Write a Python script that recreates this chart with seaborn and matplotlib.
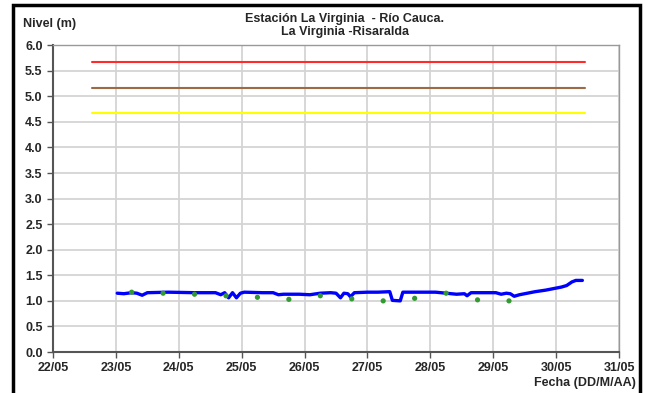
import numpy as np
import matplotlib
matplotlib.use("Agg")
import matplotlib.pyplot as plt
import matplotlib.dates as mdates
import pandas as pd
import seaborn as sns

# nivel del rio: horas desde 23/05 00:00 y nivel (m)
horas = [0.5, 3, 6, 8, 10, 12, 20, 30, 38, 40, 41.5, 43, 44.5, 46, 47.5, 49,
         56, 60, 62, 64, 70, 74, 78, 82, 84, 85.7, 87, 88.5, 89.5, 91, 96, 100,
         104.5, 105.5, 108.5, 109.5, 114, 122, 126, 130, 133, 134, 135.5, 140,
         145, 147, 149, 150.5, 152, 154, 157, 160, 164, 166, 170, 172, 174,
         175.5, 178]
nivel = [1.15, 1.14, 1.16, 1.15, 1.11, 1.16, 1.17, 1.16, 1.16, 1.12, 1.16,
         1.06, 1.16, 1.06, 1.15, 1.17, 1.16, 1.16, 1.12, 1.13, 1.13, 1.12,
         1.15, 1.16, 1.15, 1.06, 1.15, 1.14, 1.08, 1.16, 1.17, 1.17, 1.18,
         1.01, 1.00, 1.17, 1.17, 1.17, 1.15, 1.13, 1.14, 1.10, 1.16, 1.16,
         1.16, 1.13, 1.15, 1.14, 1.09, 1.12, 1.15, 1.18, 1.21, 1.23, 1.27,
         1.30, 1.37, 1.40, 1.40]

# lecturas de mira cada 12 h desde 23/05 06:00
horas_mira = [6, 18, 30, 42, 54, 66, 78, 90, 102, 114, 126, 138, 150]
nivel_mira = [1.17, 1.15, 1.13, 1.10, 1.07, 1.03, 1.10, 1.04, 1.00, 1.05,
              1.15, 1.02, 1.00]

# umbrales de alerta
umbrales = [5.67, 5.17, 4.68]
colores_umbral = ["#ff2a2a", "#9c6b45", "#ffff00"]
umbral_ini = "2010-05-22 15:00"
umbral_fin = "2010-05-30 11:00"

t0 = pd.Timestamp("2010-05-23 00:00")
serie = pd.DataFrame({"fecha": t0 + pd.to_timedelta(horas, unit="h"), "nivel": nivel})
mira = pd.DataFrame({"fecha": t0 + pd.to_timedelta(horas_mira, unit="h"), "nivel": nivel_mira})

sns.set_style("whitegrid")
plt.rcParams["font.family"] = ["Liberation Sans", "DejaVu Sans"]
plt.rcParams["font.weight"] = "bold"

fig = plt.figure(figsize=(6.53, 3.93), dpi=100)
ax = fig.add_axes([0.0812, 0.1043, 0.8668, 0.7807])

for u, c in zip(umbrales, colores_umbral):
    d = pd.DataFrame({"fecha": pd.to_datetime([umbral_ini, umbral_fin]), "nivel": [u, u]})
    sns.lineplot(data=d, x="fecha", y="nivel", color=c, lw=1.5, ax=ax)

sns.lineplot(data=serie, x="fecha", y="nivel", color="#0000ff", lw=2.4,
             estimator=None, ax=ax)
sns.scatterplot(data=mira, x="fecha", y="nivel", color="#339933", s=14,
                edgecolor="none", ax=ax, zorder=5)

ax.set_xlim(pd.Timestamp("2010-05-22"), pd.Timestamp("2010-05-31"))
ax.set_ylim(0, 6)
ax.set_yticks(np.arange(0, 6.01, 0.5))
ax.yaxis.set_major_formatter(plt.FormatStrFormatter("%.1f"))
ax.xaxis.set_major_locator(mdates.DayLocator())
ax.xaxis.set_major_formatter(mdates.DateFormatter("%d/%m"))
ax.set_xlabel("")
ax.set_ylabel("")

ax.grid(True, color="#d4d4d4", lw=1.3)
ax.tick_params(axis="both", labelsize=9, length=4, width=1, direction="out",
               color="#555555", pad=3.5, left=True, bottom=True)
for lab in ax.get_xticklabels() + ax.get_yticklabels():
    lab.set_fontweight("bold")
for s in ["left", "bottom"]:
    ax.spines[s].set_color("#555555")
    ax.spines[s].set_linewidth(1.5)
for s in ["top", "right"]:
    ax.spines[s].set_color("#999999")
    ax.spines[s].set_linewidth(1)

fig.text(0.528, 0.967, "Estación La Virginia  - Río Cauca.\nLa Virginia -Risaralda",
         ha="center", va="top", fontsize=9, fontweight="bold", linespacing=1.1)
fig.text(0.035, 0.939, "Nivel (m)", ha="left", va="center", fontsize=9,
         fontweight="bold")
fig.text(0.974, 0.025, "Fecha (DD/M/AA)", ha="right", va="center", fontsize=9,
         fontweight="bold")

fig.patches.append(plt.Rectangle((0.02, -0.1), 0.96, 1.087, transform=fig.transFigure,
                                 fill=False, ec="black", lw=2.5))

fig.savefig("out.png", dpi=100)
